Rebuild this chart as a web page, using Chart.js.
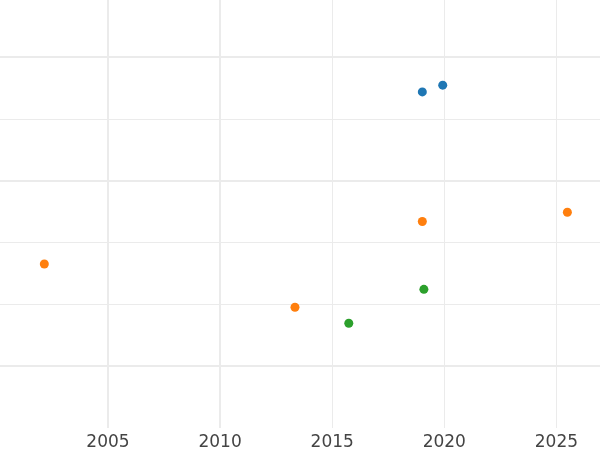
<!DOCTYPE html>
<html>
<head>
<meta charset="utf-8">
<script src="https://cdn.jsdelivr.net/npm/chart.js@4"></script>
<style>
  html, body { margin: 0; padding: 0; background: #fff; }
  #wrap { width: 600px; height: 450px; }
</style>
</head>
<body>
<div id="wrap"><canvas id="chart"></canvas></div>
<script>
// --- DATA ---
const xTicks = [2005, 2010, 2015, 2020, 2025];
const yTicks = [1, 2, 3, 4, 5, 6];

const blueX = [2019.02, 2019.93];
const blueY = [5.44, 5.55];

const orangeX = [2002.16, 2013.34, 2019.02, 2025.49];
const orangeY = [2.65, 1.95, 3.34, 3.49];

const greenX = [2015.74, 2019.09];
const greenY = [1.69, 2.24];

// thicker-looking grid lines in the picture
const thickX = [2005, 2010];
const thickY = [1, 4, 6];

function toPoints(xs, ys) {
    return xs.map((x, i) => ({ x: x, y: ys[i] }));
}

function series(label, xs, ys, color) {
    return {
        label: label,
        data: toPoints(xs, ys),
        backgroundColor: color,
        borderColor: color,
        borderWidth: 0,
        pointRadius: 4.5,
        pointHoverRadius: 4.5
    };
}

Chart.defaults.font.family = "'DejaVu Sans', sans-serif";

new Chart(document.getElementById('chart'), {
    type: 'scatter',
    data: {
        datasets: [
            series('A', blueX, blueY, '#1f77b4'),
            series('B', orangeX, orangeY, '#ff7f0e'),
            series('C', greenX, greenY, '#2ca02c')
        ]
    },
    options: {
        responsive: true,
        maintainAspectRatio: false,
        animation: false,
        layout: { padding: 0, autoPadding: false },
        plugins: { legend: { display: false }, tooltip: { enabled: false } },
        scales: {
            x: {
                type: 'linear',
                min: 2000.183,
                max: 2026.945,
                afterBuildTicks: s => { s.ticks = xTicks.map(v => ({ value: v })); },
                afterFit: s => { s.height = 22.5; },
                border: { display: false },
                grid: {
                    color: '#ebebeb',
                    drawTicks: false,
                    lineWidth: c => thickX.includes(c.tick && c.tick.value) ? 2 : 1
                },
                ticks: {
                    padding: 5,
                    color: '#444',
                    font: { size: 17 },
                    maxRotation: 0,
                    callback: v => String(v)
                }
            },
            y: {
                type: 'linear',
                min: 0,
                max: 6.93,
                afterBuildTicks: s => { s.ticks = yTicks.map(v => ({ value: v })); },
                afterFit: s => { s.width = 0; },
                border: { display: false },
                grid: {
                    color: '#ebebeb',
                    drawTicks: false,
                    lineWidth: c => thickY.includes(c.tick && c.tick.value) ? 2 : 1
                },
                ticks: { display: false }
            }
        }
    }
});
</script>
</body>
</html>
